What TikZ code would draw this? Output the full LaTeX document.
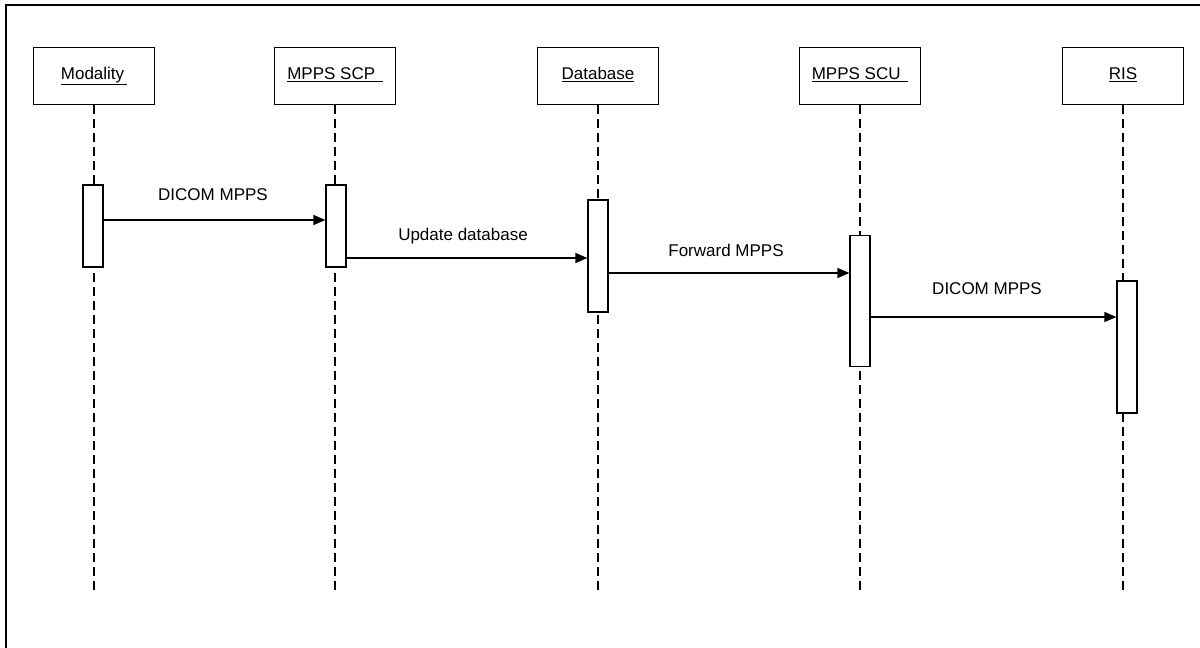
\documentclass[tikz,border=0pt]{standalone}
\usepackage{fontspec}
\setmainfont{Liberation Sans}
\usetikzlibrary{arrows.meta}

\begin{document}
\begin{tikzpicture}[x=1pt,y=-1pt,
  obj/.style={draw,line width=1.2pt,minimum width=121pt,minimum height=57pt,
    inner sep=0pt,text height=12pt,text depth=5pt,font=\fontsize{17}{20}\selectfont},
  act/.style={draw,fill=white,line width=1.2pt,minimum width=20pt,inner sep=0pt},
  life/.style={line width=1.2pt,dash pattern=on 9pt off 5pt},
  msg/.style={line width=1.2pt,-{Triangle[length=12pt,width=10pt]}},
  lbl/.style={font=\fontsize{17}{20}\selectfont}]
\useasboundingbox (0,0) rectangle (1200,648);
\draw[line width=1.2pt] (6,648) -- (6,5) -- (1200,5);

% objects
\node[obj] (modality) at (94,76) {\underline{Modality\,}};
\node[obj] (scp) at (335,76) {\underline{MPPS SCP\ \,}};
\node[obj] (db) at (598,76) {\underline{Database}};
\node[obj] (scu) at (860,76) {\underline{MPPS SCU\ \,}};
\node[obj] (ris) at (1123,76) {\underline{RIS}};

% lifelines
\coordinate (modalityend) at (94,590);
\coordinate (scpend) at (335,590);
\coordinate (dbend) at (598,590);
\coordinate (scuend) at (860,590);
\coordinate (risend) at (1123,590);
\draw[life] (modality.south) -- (modalityend);
\draw[life] (scp.south) -- (scpend);
\draw[life] (db.south) -- (dbend);
\draw[life] (scu.south) -- (scuend);
\draw[life] (ris.south) -- (risend);

% activations
\node[act,minimum height=82pt] (modbar) at (93,226) {};
\node[act,minimum height=82pt] (scpbar) at (336,226) {};
\node[act,minimum height=112pt] (dbbar) at (598,256) {};
\node[act,minimum height=131pt] (scubar) at (860,301) {};
\node[act,minimum height=132pt] (risbar) at (1127,347) {};

% messages
\draw[msg] (modbar.east |- 0,220) -- (scpbar.west |- 0,220);
\node[lbl] (msg1) at (213,195) {DICOM MPPS};
\draw[msg] (scpbar.east |- 0,258) -- (dbbar.west |- 0,258);
\node[lbl] (msg2) at (463,236) {Update database};
\draw[msg] (dbbar.east |- 0,273) -- (scubar.west |- 0,273);
\node[lbl] (msg3) at (726,250) {Forward MPPS};
\draw[msg] (scubar.east |- 0,317) -- (risbar.west |- 0,317);
\node[lbl] (msg4) at (987,289) {DICOM MPPS};
\end{tikzpicture}
\end{document}
